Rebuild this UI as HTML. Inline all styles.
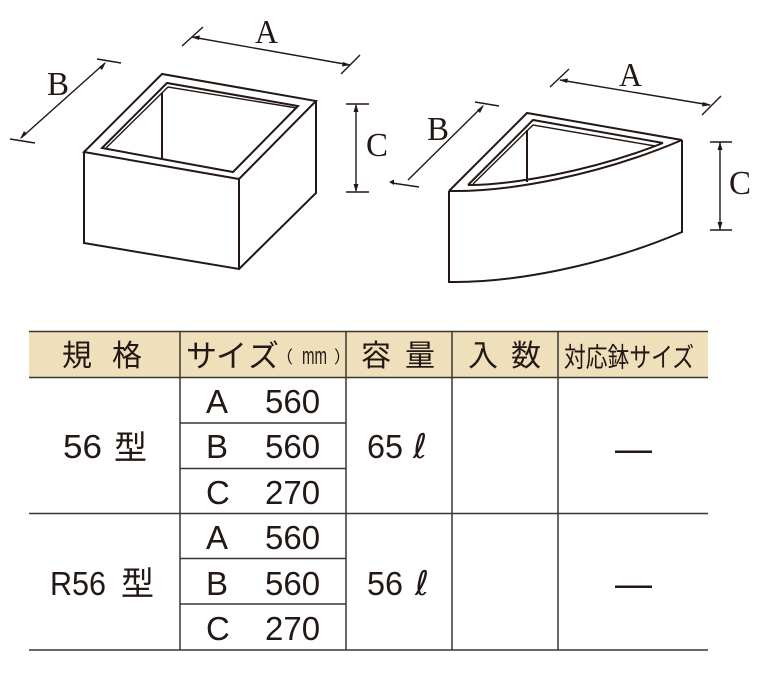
<!DOCTYPE html>
<html><head><meta charset="utf-8">
<style>
html,body{margin:0;padding:0;background:#fff;width:777px;height:674px;overflow:hidden}
svg{display:block}
.s{font-family:"Liberation Serif",serif;font-size:34px;fill:#231815}
.n{font-family:"Liberation Sans","Noto Sans CJK JP",sans-serif;font-size:33px;fill:#231815}
.j{font-family:"Liberation Sans","Noto Sans CJK JP",sans-serif;font-size:30px;fill:#231815}
.l{fill:none;stroke:#231815;stroke-width:2}
.t{fill:none;stroke:#231815;stroke-width:1.4}
.r{fill:none;stroke:#3a3532;stroke-width:1.5}
.h{fill:#231815;stroke:none}
</style></head><body>
<svg width="777" height="674" viewBox="0 0 777 674" xmlns="http://www.w3.org/2000/svg">
<rect width="777" height="674" fill="#fff"/>

<!-- left box -->
<path class="l" d="M84 152L162 74L316 101L239 179Z"/>
<path class="l" d="M84 152V243L239 269V179"/>
<path class="l" d="M239 269L316 193V101"/>
<path class="l" d="M102 148L167 83L298 106L233 172Z"/>
<path class="t" d="M106 148L168 87L297 108"/>
<path class="l" d="M162 93V158"/>
<!-- left dimensions -->
<path class="t" d="M192 37L350 65M182 46L203 27M341 74L360 55"/>
<path class="t" d="M21 138L105 63M10 139L35 143M97 59L121 63"/>
<path class="t" d="M356 105V191M346 104H369M346 192H369"/>
<path class="h" d="M191 37L200 35.500L199 40ZM351 65L342 66.500L343 62ZM20 139L24 131L27 134ZM106 62L102 70L99 67ZM356 104L358.500 112H353.500ZM356 192L353.500 184H358.500Z"/>

<!-- right box -->
<path class="l" d="M449 191L527 113L682 140"/>
<path class="l" d="M449 191C510 192 600 175 682 140"/>
<path class="l" d="M449 191V282C510 283 600 267 682 232V140"/>
<path class="l" d="M468 185L533 120L663 143"/>
<path class="t" d="M473 184L533 125L655 146"/>
<path class="l" d="M468 185C510 185 590 172 663 143"/>
<path class="l" d="M527 130V182"/>
<!-- right dimensions -->
<path class="t" d="M560 80L710 105M550 87L569 69M702 115L721 96"/>
<path class="t" d="M408 180L483 106M475 102L499 106M392 183L419 187"/>
<path class="t" d="M720 142V230M710 142H732M710 230H732"/>
<path class="h" d="M559 80L568 78.500L567 83ZM711 105L702 106.500L703 102ZM484 105L480 113L477 110ZM389 182L394 179.500V185ZM720 142L722.500 150H717.500ZM720 230L717.500 222H722.500Z"/>

<!-- dimension labels -->
<text class="s" x="255" y="43" textLength="23" lengthAdjust="spacingAndGlyphs">A</text>
<text class="s" x="47" y="95" textLength="22" lengthAdjust="spacingAndGlyphs">B</text>
<text class="s" x="366" y="156" textLength="22" lengthAdjust="spacingAndGlyphs">C</text>
<text class="s" x="619" y="86" textLength="23" lengthAdjust="spacingAndGlyphs">A</text>
<text class="s" x="427" y="140" textLength="22" lengthAdjust="spacingAndGlyphs">B</text>
<text class="s" x="729" y="194" textLength="22" lengthAdjust="spacingAndGlyphs">C</text>

<!-- table -->
<rect x="29" y="331" width="679" height="46" fill="#efe0bb"/>
<path class="r" d="M29 331.500H708M29 377.500H708M29 513.500H708M29 650H708"/>
<path class="r" d="M180 331V650M346 331V650M452 331V650M558 331V650"/>
<path class="r" d="M180 423H346M180 468.500H346M180 558.500H346M180 604H346"/>

<!-- header -->
<text class="j" x="62" y="366">規</text>
<text class="j" x="112" y="366">格</text>
<text class="j" x="186" y="367" style="font-size:31px">サ</text>
<text class="j" x="216" y="367" style="font-size:31px">イ</text>
<text class="j" x="248" y="367" style="font-size:31px">ズ</text>
<text class="j" x="276" y="363" style="font-size:17px">（</text>
<text x="302" y="364" font-family="Liberation Sans,sans-serif" font-size="24" fill="#231815" textLength="25" lengthAdjust="spacingAndGlyphs">mm</text>
<text class="j" x="334" y="363" style="font-size:17px">）</text>
<text class="j" x="361" y="366">容</text>
<text class="j" x="405" y="366">量</text>
<text class="j" x="468" y="366">入</text>
<text class="j" x="511" y="366">数</text>
<text class="j" x="564" y="367" style="font-size:27px" textLength="130" lengthAdjust="spacingAndGlyphs">対応鉢サイズ</text>

<!-- rows -->
<g class="n">
<text x="206" y="413">A</text><text x="265" y="413">560</text>
<text x="206" y="458">B</text><text x="265" y="458">560</text>
<text x="206" y="504">C</text><text x="265" y="504">270</text>
<text x="206" y="549">A</text><text x="265" y="549">560</text>
<text x="206" y="595">B</text><text x="265" y="595">560</text>
<text x="206" y="640">C</text><text x="265" y="640">270</text>
<text x="63" y="458" textLength="39" lengthAdjust="spacingAndGlyphs">56</text>
<text x="114" y="459" style="font-size:33px">型</text>
<text x="50" y="595" textLength="56" lengthAdjust="spacingAndGlyphs">R56</text>
<text x="121" y="595" style="font-size:33px">型</text>
<text x="367" y="458" textLength="36" lengthAdjust="spacingAndGlyphs">65</text>
<text x="413" y="458" style="font-family:'DejaVu Sans',sans-serif;font-size:34px">ℓ</text>
<text x="367" y="595" textLength="36" lengthAdjust="spacingAndGlyphs">56</text>
<text x="415" y="595" style="font-family:'DejaVu Sans',sans-serif;font-size:34px">ℓ</text>
<text x="615" y="461" style="font-size:37px">—</text>
<text x="615" y="596" style="font-size:37px">—</text>
</g>
</svg>
</body></html>
